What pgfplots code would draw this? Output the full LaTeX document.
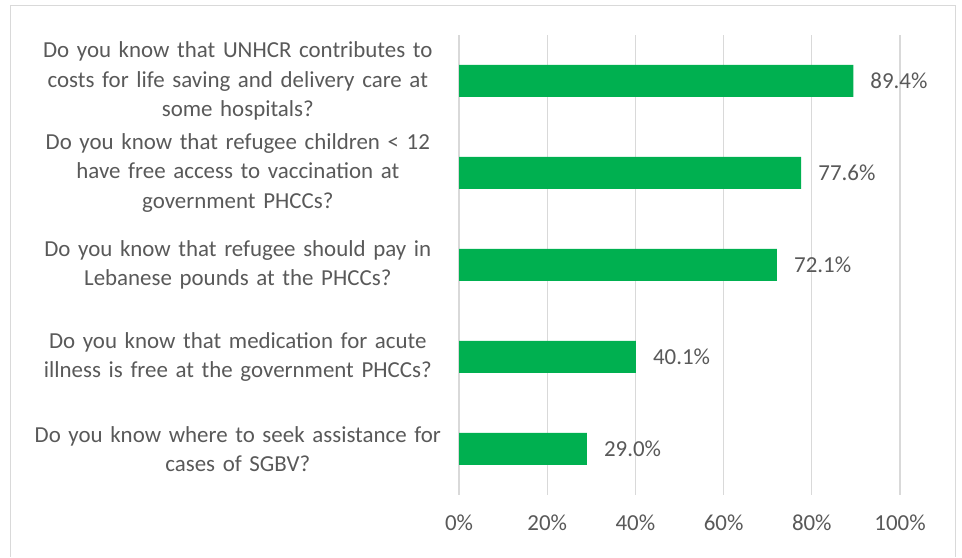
\documentclass[border=0pt]{standalone}
\usepackage{fontspec}
\setmainfont{Carlito}
\usepackage{pgfplots}
\pgfplotsset{compat=1.18}
\definecolor{barg}{HTML}{00B050}
\definecolor{txt}{HTML}{595959}
\definecolor{grd}{HTML}{D9D9D9}
\definecolor{frm}{HTML}{D9D9D9}
\begin{document}
\begin{tikzpicture}[x=1bp,y=1bp]
\fill[white] (0,0) rectangle (962,555);
\draw[frm, line width=1.2bp] (10.5,-2) -- (10.5,549.5) -- (955.5,549.5) -- (955.5,-2);
\begin{axis}[
  at={(459bp,60bp)}, anchor=south west,
  scale only axis, width=441bp, height=460bp,
  xmin=0, xmax=100, ymin=-0.5, ymax=4.5,
  xtick={0,20,...,100},
  xticklabels={0\%,20\%,40\%,60\%,80\%,100\%},
  ytick={0,1,2,3,4},
  yticklabels={
    {Do you know where to seek assistance for\\cases of SGBV?},
    {Do you know that medication for acute\\illness is free at the government PHCCs?},
    {Do you know that refugee should pay in\\Lebanese pounds at the PHCCs?},
    {Do you know that refugee children < 12\\have free access to vaccination at\\government PHCCs?},
    {Do you know that UNHCR contributes to\\costs for life saving and delivery care at\\some hospitals?}},
  xmajorgrids, major grid style={grd, line width=1.3bp},
  major tick length=0pt,
  axis line style={draw=none},
  tick label style={txt, font=\fontsize{23.0}{29.7}\selectfont},
  yticklabel style={text width=420bp, align=center, inner sep=0pt, anchor=east, xshift=-11bp},
  xticklabel style={inner sep=0pt, anchor=center, yshift=-28bp},
  /pgf/number format/assume math mode=true,
  xbar, bar width=32bp,
  nodes near coords={\pgfmathprintnumber[fixed,fixed zerofill,precision=1]{\pgfplotspointmeta}\%},
  point meta=x,
  nodes near coords style={txt, font=\fontsize{23.0}{29.7}\selectfont, anchor=west, inner sep=0pt, xshift=17bp},
  clip=false,
]
\addplot[fill=barg, draw=none] coordinates {(29.0,0) (40.1,1) (72.1,2) (77.6,3) (89.4,4)};
\end{axis}
\end{tikzpicture}
\end{document}
